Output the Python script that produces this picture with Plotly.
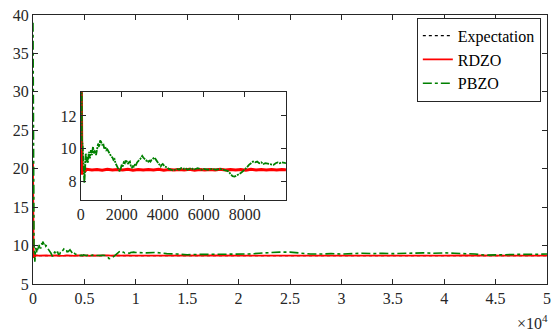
import plotly.graph_objects as go

# ---------------- data ----------------
expect_x = [0, 50000]
expect_y = [8.7, 8.7]

rdzo_x = [0, 10, 20, 30, 40, 50, 60, 80, 100, 130, 160, 200, 250,
          300, 550, 800, 1050, 1300, 1550, 1800, 2050, 2300, 2550, 2800, 3050,
          3300, 3550, 3800, 4050, 4300, 4550, 4800, 5050, 5300, 5550, 5800, 6050,
          6300, 6550, 6800, 7050, 7300, 7550, 7800, 8050, 8300, 8550, 8800, 9050,
          9300, 9550, 9800, 10000,
          12000, 14000, 16000, 18000, 20000, 22000, 24000, 26000, 28000, 30000,
          32000, 34000, 36000, 38000, 40000, 42000, 44000, 46000, 48000, 50000]
rdzo_y = [21.0, 16.0, 12.5, 10.5, 9.6, 9.0, 8.4, 8.9, 8.55, 8.85, 8.6, 8.8, 8.66,
          8.73, 8.68, 8.72, 8.67, 8.73, 8.68, 8.72, 8.68, 8.73, 8.67, 8.72, 8.68,
          8.72, 8.68, 8.73, 8.67, 8.72, 8.68, 8.72, 8.68, 8.73, 8.67, 8.72, 8.68,
          8.72, 8.68, 8.73, 8.68, 8.72, 8.68, 8.72, 8.67, 8.73, 8.68, 8.72, 8.68,
          8.72, 8.68, 8.72, 8.7,
          8.68, 8.72, 8.69, 8.71, 8.7, 8.69, 8.71, 8.7, 8.68, 8.71,
          8.7, 8.69, 8.71, 8.7, 8.69, 8.71, 8.7, 8.69, 8.71, 8.7]

pbzo_x = [0, 10, 20, 30, 40, 50, 60, 80, 100, 120, 140, 160, 180, 200, 220, 250, 280,
          300, 350, 400, 450, 500, 550, 600, 650, 700, 750, 800, 850, 900, 950,
          1000, 1050, 1100, 1150, 1200, 1250, 1300, 1350, 1400, 1450, 1500, 1550,
          1600, 1650, 1700, 1750, 1800, 1850, 1900, 1950, 2000, 2050, 2100, 2150,
          2200, 2250, 2300, 2350, 2400, 2450, 2500, 2550, 2600, 2650, 2700, 2750,
          2800, 2850, 2900, 2950, 3000, 3050, 3100, 3150, 3200, 3250, 3300, 3350,
          3400, 3450, 3500, 3550, 3600, 3650, 3700, 3750, 3800, 3850, 3900, 3950,
          4000, 4100, 4200, 4300, 4400, 4500, 4600, 4700, 4800, 4900, 5000, 5100,
          5200, 5300, 5400, 5500, 5600, 5700, 5800, 5900, 6000, 6200, 6400, 6600,
          6800, 7000, 7100, 7200, 7300, 7400, 7500, 7600, 7700, 7800, 7900, 8000,
          8100, 8200, 8300, 8400, 8500, 8600, 8700, 8800, 8900, 9000, 9200, 9400,
          9500, 9600, 9700, 9800, 10000,
          11000, 12000, 13000, 14000, 15000, 16000, 17000, 18000, 19000, 20000,
          21000, 22000, 23000, 24000, 25000, 26000, 27000, 28000, 29000, 30000,
          31000, 32000, 33000, 34000, 35000, 36000, 37000, 38000, 39000, 40000,
          41000, 42000, 43000, 44000, 45000, 46000, 47000, 48000, 49000, 50000]
pbzo_y = [39.0, 31.0, 24.0, 18.0, 14.5, 12.0, 10.6, 10.4, 10.2, 9.6, 8.8, 8.1, 7.9, 8.3, 9.0, 9.7, 9.2,
          9.5, 9.1, 9.8, 9.4, 9.9, 9.6, 10.1, 9.7, 9.9, 9.6, 10.0, 10.3, 10.1, 10.5,
          10.4, 10.2, 10.3, 10.0, 10.1, 9.9, 9.95, 9.8, 9.7, 9.6, 9.5, 9.45,
          9.3, 9.35, 9.1, 9.0, 8.85, 8.7, 8.6, 8.75, 9.0, 8.9, 9.15, 9.1,
          9.3, 9.2, 9.05, 9.15, 9.2, 8.9, 8.8, 8.95, 8.85, 9.05, 9.0, 9.15,
          9.2, 9.3, 9.35, 9.45, 9.55, 9.45, 9.4, 9.35, 9.25, 9.3, 9.2, 9.25,
          9.2, 9.3, 9.35, 9.4, 9.45, 9.35, 9.25, 9.15, 9.05, 8.95, 8.9, 9.0,
          9.05, 8.9, 8.85, 8.75, 8.7, 8.65, 8.7, 8.75, 8.7, 8.8, 8.75, 8.8,
          8.7, 8.75, 8.8, 8.7, 8.75, 8.8, 8.75, 8.7, 8.75, 8.7, 8.75, 8.7,
          8.75, 8.7, 8.65, 8.6, 8.45, 8.3, 8.28, 8.35, 8.4, 8.5, 8.6, 8.7,
          8.85, 9.0, 9.1, 9.2, 9.15, 9.2, 9.1, 9.15, 9.05, 9.1, 9.05, 9.0,
          9.1, 9.15, 9.1, 9.15, 9.1,
          9.05, 9.1, 8.95, 8.9, 8.8, 8.85, 8.85, 8.9, 8.85, 8.85,
          8.9, 9.0, 9.1, 9.15, 9.15, 9.0, 8.9, 8.9, 8.95, 8.9,
          8.95, 9.0, 8.95, 9.0, 8.95, 9.0, 9.05, 9.05, 9.0, 9.05,
          9.0, 8.95, 8.9, 8.75, 8.8, 8.8, 8.85, 8.85, 8.9, 8.9]

main_xticks = [0, 5000, 10000, 15000, 20000, 25000, 30000, 35000, 40000, 45000, 50000]
main_xlabels = ["0", "0.5", "1", "1.5", "2", "2.5", "3", "3.5", "4", "4.5", "5"]
main_yticks = [5, 10, 15, 20, 25, 30, 35, 40]
inset_xticks = [0, 2000, 4000, 6000, 8000]
inset_yticks = [8, 10, 12]

# ---------------- figure ----------------
FONT = "Times New Roman"
FS = 16
AX = "#262626"
RED = "#FF0000"
GREEN = "#008000"

fig = go.Figure()

# main
fig.add_trace(go.Scatter(x=expect_x, y=expect_y, mode="lines", name="Expectation",
                         line=dict(color="black", width=1.2, dash="dot"), xaxis="x", yaxis="y"))
fig.add_trace(go.Scatter(x=rdzo_x, y=rdzo_y, mode="lines", name="RDZO",
                         line=dict(color=RED, width=1.8), xaxis="x", yaxis="y"))
fig.add_trace(go.Scatter(x=pbzo_x, y=pbzo_y, mode="lines", name="PBZO",
                         line=dict(color=GREEN, width=1.6, dash="dashdot"), xaxis="x", yaxis="y"))
# inset
fig.add_trace(go.Scatter(x=expect_x, y=expect_y, mode="lines", showlegend=False,
                         line=dict(color="black", width=1.2, dash="dot"), xaxis="x2", yaxis="y2"))
fig.add_trace(go.Scatter(x=rdzo_x, y=rdzo_y, mode="lines", showlegend=False,
                         line=dict(color=RED, width=3.0), xaxis="x2", yaxis="y2"))
fig.add_trace(go.Scatter(x=pbzo_x, y=pbzo_y, mode="lines", showlegend=False,
                         line=dict(color=GREEN, width=1.8, dash="6px,1px,2px,1px"),
                         xaxis="x2", yaxis="y2"))

axcommon = dict(showline=True, linecolor=AX, linewidth=1, mirror="ticks", ticks="inside",
                ticklen=5, tickcolor=AX, tickwidth=1, showgrid=False, zeroline=False,
                tickfont=dict(family=FONT, size=FS, color=AX))

fig.update_layout(
    width=555, height=335,
    margin=dict(l=33, r=4, t=15, b=51),
    paper_bgcolor="white", plot_bgcolor="white",
    font=dict(family=FONT, size=FS, color=AX),
    xaxis=dict(range=[0, 50000], tickvals=main_xticks, ticktext=main_xlabels,
               domain=[0, 1], anchor="y", **axcommon),
    yaxis=dict(range=[5, 40], tickvals=main_yticks, domain=[0, 1], anchor="x", **axcommon),
    xaxis2=dict(range=[0, 10000], tickvals=inset_xticks, domain=[0.0927, 0.492], anchor="y2",
                **axcommon),
    yaxis2=dict(range=[6.84, 13.47], tickvals=inset_yticks, domain=[0.312, 0.714], anchor="x2",
                **axcommon),
    legend=dict(x=0.988, y=0.99, xanchor="right", yanchor="top",
                bgcolor="white", bordercolor=AX, borderwidth=1,
                font=dict(family=FONT, size=FS, color="black"),
                tracegroupgap=0, itemwidth=30),
    showlegend=True,
    annotations=[dict(text="×10<sup>4</sup>", xref="paper", yref="paper", x=1.006, y=-0.14,
                      xanchor="right", yanchor="middle", showarrow=False,
                      font=dict(family=FONT, size=FS, color=AX))],
)

fig.write_html("out.html")
